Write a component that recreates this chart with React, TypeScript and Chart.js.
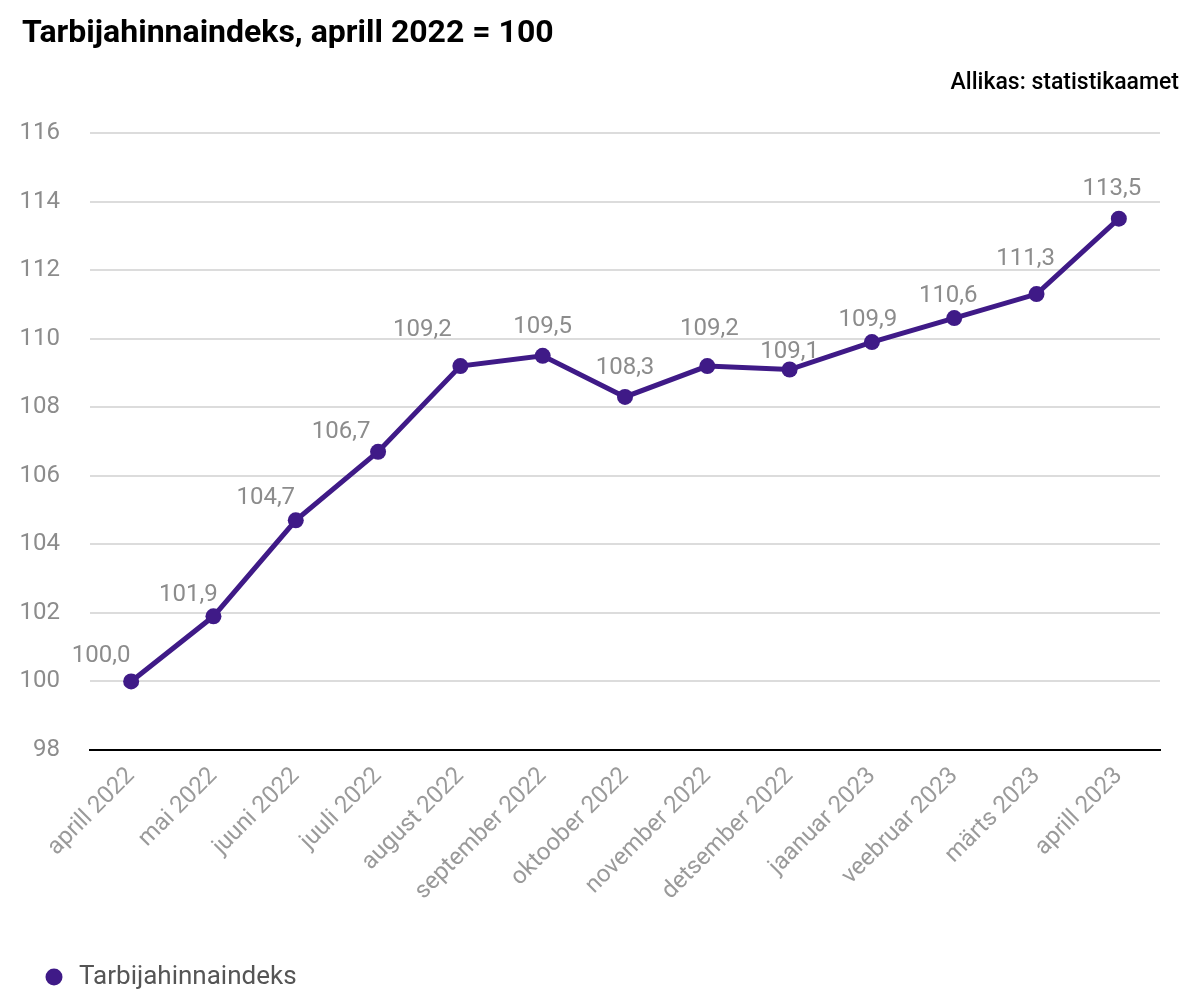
import React, { useEffect, useRef } from "react";
import { Chart, registerables } from "chart.js";

Chart.register(...registerables);

const months = [
  "aprill 2022", "mai 2022", "juuni 2022", "juuli 2022", "august 2022", "september 2022",
  "oktoober 2022", "november 2022", "detsember 2022", "jaanuar 2023", "veebruar 2023",
  "märts 2023", "aprill 2023",
];
const indexValues = [100.0, 101.9, 104.7, 106.7, 109.2, 109.5, 108.3, 109.2, 109.1, 109.9, 110.6, 111.3, 113.5];
const seriesName = "Tarbijahinnaindeks";
const titleText = "Tarbijahinnaindeks, aprill 2022 = 100";
const sourceText = "Allikas: statistikaamet";

// label placement offsets (styling only)
const labelDx = [-30, -25, -30, -37, -38, 0, 0, 2, 0, -4, -6, -11, -7];
const labelDy = [-25, -21, -22, -20, -36, -29, -29, -37, -18, -22, -22, -35, -30];

const valueLabels = {
  id: "valueLabels",
  afterDatasetsDraw(chart: any) {
    const meta = chart.getDatasetMeta(0);
    const ctx = chart.ctx;
    ctx.save();
    ctx.font = "24px Roboto";
    ctx.fillStyle = "#8c8c8c";
    ctx.textAlign = "center";
    ctx.textBaseline = "middle";
    meta.data.forEach((pt: any, i: number) => {
      const v = indexValues[i];
      ctx.fillText(v.toFixed(1).replace(".", ","), pt.x + labelDx[i], pt.y + labelDy[i]);
    });
    ctx.restore();
  },
};

const headerText = {
  id: "headerText",
  afterDraw(chart: any) {
    const ctx = chart.ctx;
    ctx.save();
    ctx.fillStyle = "#000";
    ctx.textBaseline = "middle";
    ctx.textAlign = "left";
    ctx.font = "bold 32px Roboto";
    ctx.fillText(titleText, 22, 34);
    ctx.textAlign = "right";
    ctx.font = "500 23px Roboto";
    ctx.fillText(sourceText, 1179, 83);
    ctx.restore();
  },
};

export default function App() {
  const ref = useRef<HTMLCanvasElement>(null);
  useEffect(() => {
    document.body.style.margin = "0";
    const chart = new Chart(ref.current!, {
      type: "line",
      data: {
        labels: months,
        datasets: [
          {
            label: seriesName,
            data: indexValues,
            borderColor: "#3f1a87",
            backgroundColor: "#3f1a87",
            borderWidth: 5,
            pointRadius: 8,
            pointBackgroundColor: "#3f1a87",
            pointBorderWidth: 0,
            tension: 0,
          },
        ],
      },
      options: {
        responsive: false,
        animation: false,
        layout: { padding: { top: 133, left: 20, right: 40, bottom: 0 } },
        plugins: {
          title: { display: false },
          legend: {
            position: "bottom",
            align: "start",
            labels: {
              usePointStyle: true,
              pointStyle: "circle",
              boxWidth: 24,
              boxHeight: 12,
              color: "#555",
              font: { family: "Roboto", size: 26 },
              padding: 22,
            },
          },
          tooltip: { enabled: false },
        },
        scales: {
          x: {
            offset: true,
            grid: { display: false },
            border: { display: true, color: "#000", width: 2 },
            ticks: {
              color: "#9a9a9a",
              font: { family: "Roboto", size: 24 },
              maxRotation: 45,
              minRotation: 45,
              padding: 4,
            },
            afterFit(scale: any) {
              scale.height = 192;
              scale.paddingLeft = 0;
              scale.paddingRight = 0;
            },
          },
          y: {
            min: 98,
            max: 116,
            grid: { color: "#dcdcdc", lineWidth: 2, drawTicks: false },
            border: { display: false },
            ticks: {
              stepSize: 2,
              color: "#8c8c8c",
              font: { family: "Roboto", size: 24 },
              padding: 30,
            },
            afterFit(scale: any) {
              scale.width = 70;
            },
          },
        },
      },
      plugins: [valueLabels, headerText],
    });
    return () => chart.destroy();
  }, []);
  return <canvas ref={ref} width={1200} height={1000} />;
}
